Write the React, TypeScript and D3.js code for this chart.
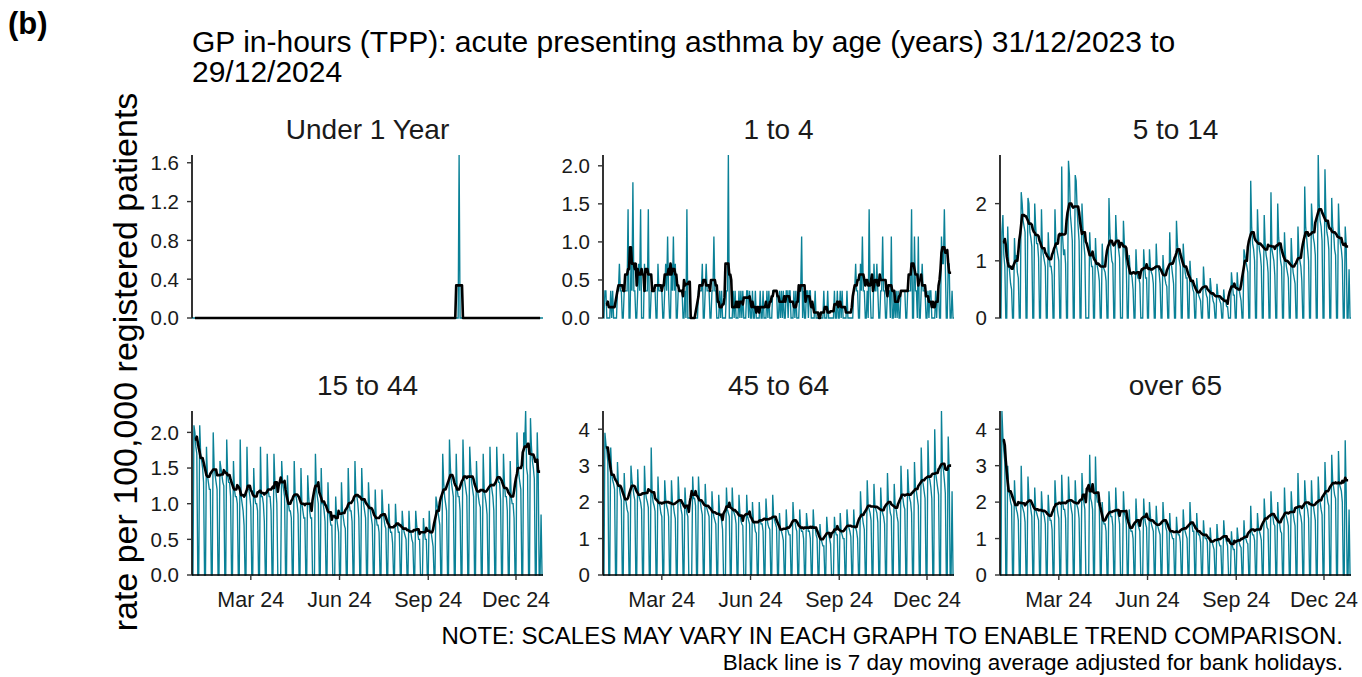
import * as React from "react";
import * as d3 from "d3";

// ---- data -------------------------------------------------------------

const START = "2023-12-31";
const END = "2024-12-29";
const bankHolidays = [
  "2024-01-01", "2024-03-29", "2024-04-01", "2024-05-06",
  "2024-05-27", "2024-08-26", "2024-12-25", "2024-12-26",
];

const panelNames = ["Under 1 Year", "1 to 4", "5 to 14", "15 to 44", "45 to 64", "over 65"];

// Under 1: one single non-zero day, every other day is 0
const under1Days = [{ date: "2024-10-03", rate: 1.68 }];

// weeks run Sunday..Saturday from 31/12/2023; each row is Mon..Fri
// 1 to 4 is small numbers, so kept as daily case counts
const oneToFourRatePerCase = 0.357;
const oneToFourCounts = [
  [0, 1, 1, 0, 0], [1, 0, 1, 0, 0], [1, 1, 2, 1, 1], [1, 1, 1, 1, 4], [2, 1, 5, 1, 1],
  [1, 2, 1, 4, 0], [2, 1, 1, 1, 4], [1, 1, 1, 1, 1], [2, 1, 1, 1, 1], [1, 2, 1, 3, 1],
  [2, 1, 3, 1, 2], [1, 1, 1, 1, 1], [1, 0, 4, 0, 0], [0, 0, 0, 0, 0], [1, 1, 1, 1, 2],
  [1, 2, 1, 1, 1], [1, 1, 3, 1, 1], [0, 1, 0, 1, 0], [0, 1, 1, 6, 0], [0, 1, 0, 1, 0],
  [1, 0, 1, 0, 1], [0, 1, 1, 0, 1], [1, 0, 0, 1, 0], [0, 1, 0, 0, 1], [0, 1, 0, 1, 0],
  [1, 1, 1, 1, 1], [1, 0, 1, 0, 1], [1, 1, 0, 1, 1], [0, 1, 0, 1, 0], [1, 1, 3, 0, 1],
  [1, 1, 0, 1, 1], [0, 0, 1, 0, 0], [0, 0, 0, 0, 1], [0, 1, 0, 0, 0], [0, 1, 0, 0, 1],
  [1, 0, 1, 0, 0], [1, 0, 0, 0, 0], [1, 1, 2, 1, 1], [2, 1, 3, 1, 1], [1, 0, 4, 1, 0],
  [2, 1, 1, 2, 1], [1, 1, 3, 1, 1], [1, 1, 1, 0, 3], [1, 0, 1, 0, 1], [1, 1, 1, 1, 1],
  [1, 1, 1, 1, 4], [3, 1, 1, 0, 3], [1, 2, 1, 1, 1], [1, 0, 1, 1, 0], [0, 1, 0, 1, 1],
  [3, 2, 2, 4, 2], [2, 2, 0, 0, 1],
];

const fiveTo14 = [
  [0, 1.5, 1.8, 1.1, 0.9], [1.6, 1.0, 0.8, 0.6, 0.5], [1.4, 1.0, 1.1, 0.8, 0.7], [2.2, 2.0, 1.7, 1.6, 1.5],
  [2.1, 2.0, 1.5, 1.4, 1.25], [2.0, 1.6, 1.3, 1.3, 1.05], [1.9, 1.2, 1.1, 1.0, 0.9], [1.5, 1.1, 0.9, 0.9, 0.75],
  [1.9, 1.3, 1.2, 1.1, 1.0], [2.65, 1.4, 1.1, 1.2, 0.95], [2.75, 2.5, 1.8, 1.6, 1.35], [2.5, 2.4, 1.9, 1.6, 1.35],
  [2.0, 1.6, 1.3, 1.1, 0], [0, 1.5, 1.1, 0.9, 0.9], [1.4, 1.0, 0.9, 0.8, 0.65], [1.3, 0.9, 0.85, 0.8, 0.65],
  [2.1, 1.5, 1.2, 1.0, 0.95], [1.8, 1.4, 1.3, 1.2, 1.05], [0, 1.7, 1.3, 1.1, 0.9], [1.1, 0.8, 0.8, 0.7, 0.5],
  [1.2, 0.8, 0.7, 0.7, 0.6], [0, 1.2, 0.9, 0.7, 0.7], [1.2, 0.9, 0.8, 0.75, 0.6], [1.3, 0.9, 0.9, 0.8, 0.6],
  [1.1, 0.8, 0.7, 0.6, 0.55], [1.5, 1.0, 0.9, 0.75, 0.6], [1.7, 1.3, 1.1, 1.0, 0.9], [1.3, 1.0, 0.8, 0.7, 0.7],
  [1.0, 0.7, 0.6, 0.5, 0.45], [0.7, 0.5, 0.4, 0.35, 0.3], [0.9, 0.6, 0.5, 0.4, 0.35], [0.7, 0.5, 0.4, 0.3, 0.25],
  [0.6, 0.4, 0.35, 0.3, 0.25], [0.5, 0.3, 0.3, 0.2, 0.2], [0, 0.8, 0.6, 0.4, 0.4], [0.8, 0.5, 0.5, 0.4, 0.3],
  [1.2, 1.1, 1.0, 0.9, 0.8], [2.4, 1.6, 1.3, 1.2, 1.0], [1.9, 1.4, 1.2, 1.1, 0.9], [1.8, 1.3, 1.1, 1.0, 0.8],
  [2.2, 1.2, 1.1, 1.0, 0.75], [2.0, 1.4, 1.2, 1.0, 0.9], [1.5, 1.1, 0.9, 0.8, 0.7], [1.4, 1.0, 0.8, 0.7, 0.6],
  [1.6, 1.1, 1.0, 0.9, 0.65], [2.3, 1.6, 1.4, 1.2, 1.0], [2.0, 1.7, 1.4, 1.3, 1.1], [2.85, 2.0, 1.7, 1.6, 1.35],
  [2.6, 1.8, 1.5, 1.4, 1.2], [2.1, 1.6, 1.5, 1.2, 1.1], [2.0, 1.5, 1.3, 1.2, 1.0], [1.6, 1.3, 0, 0, 0.85],
];

const fifteenTo44 = [
  [0, 2.1, 2.0, 1.8, 1.7], [2.1, 1.7, 1.6, 1.5, 1.3], [1.8, 1.4, 1.3, 1.2, 1.2], [2.0, 1.5, 1.4, 1.3, 1.2],
  [1.6, 1.5, 1.4, 1.3, 1.25], [1.9, 1.4, 1.3, 1.3, 1.1], [1.6, 1.2, 1.1, 1.1, 1.0], [1.9, 1.1, 1.0, 0.9, 0.7],
  [1.8, 1.2, 1.2, 1.1, 0.95], [1.5, 1.1, 1.0, 1.0, 0.9], [1.8, 1.1, 1.1, 1.0, 0.75], [1.7, 1.2, 1.1, 1.1, 0.9],
  [1.7, 1.3, 1.2, 1.0, 0], [0, 1.6, 1.3, 1.2, 1.1], [1.4, 1.0, 0.9, 0.9, 0.8], [1.6, 1.1, 1.1, 1.0, 0.85],
  [1.5, 1.0, 0.9, 0.8, 0.8], [1.4, 1.1, 0.9, 0.8, 0.8], [0, 1.7, 1.2, 1.1, 1.0], [1.5, 1.0, 1.0, 0.9, 0.75],
  [1.3, 0.9, 0.8, 0.7, 0.7], [0, 1.1, 0.8, 0.7, 0.6], [1.3, 0.9, 0.8, 0.7, 0.65], [1.5, 1.0, 0.9, 0.9, 0.75],
  [1.6, 1.1, 1.1, 1.0, 0.8], [1.5, 1.1, 1.0, 0.9, 0.8], [1.3, 1.0, 0.9, 0.8, 0.7], [1.2, 0.8, 0.7, 0.7, 0.6],
  [1.2, 0.9, 0.8, 0.7, 0.65], [1.0, 0.7, 0.6, 0.6, 0.45], [1.0, 0.7, 0.7, 0.6, 0.6], [0.9, 0.7, 0.6, 0.55, 0.5],
  [0.9, 0.6, 0.6, 0.5, 0.45], [0.9, 0.7, 0.6, 0.5, 0.5], [0, 0.8, 0.6, 0.5, 0.5], [0.9, 0.6, 0.6, 0.5, 0.4],
  [1.1, 1.0, 0.9, 0.8, 0.7], [1.7, 1.3, 1.1, 1.0, 0.9], [1.9, 1.5, 1.3, 1.2, 1.1], [1.7, 1.2, 1.1, 1.1, 0.9],
  [1.9, 1.4, 1.3, 1.2, 1.1], [1.8, 1.5, 1.3, 1.2, 1.1], [1.6, 1.2, 1.1, 1.0, 0.95], [1.7, 1.2, 1.1, 1.0, 0.85],
  [1.8, 1.3, 1.2, 1.1, 0.9], [1.8, 1.4, 1.3, 1.3, 1.05], [1.7, 1.3, 1.1, 1.1, 0.9], [1.6, 1.1, 1.0, 1.0, 0.8],
  [2.0, 1.6, 1.4, 1.3, 1.2], [2.0, 1.8, 2.3, 1.5, 1.4], [2.2, 1.8, 1.6, 1.5, 1.35], [2.0, 1.5, 0, 0, 0.85],
];

const fortyFiveTo64 = [
  [0, 3.9, 3.6, 3.4, 3.1], [3.5, 2.8, 2.6, 2.5, 2.35], [3.1, 2.5, 2.4, 2.2, 2.05], [2.8, 2.1, 2.0, 1.8, 1.7],
  [3.0, 2.6, 2.4, 2.2, 2.05], [2.9, 2.2, 2.1, 2.0, 1.8], [3.0, 2.3, 2.1, 2.0, 1.85], [3.5, 2.2, 2.0, 1.9, 1.75],
  [2.7, 2.0, 1.9, 1.7, 1.6], [2.6, 2.1, 1.9, 1.8, 1.6], [2.6, 2.0, 1.9, 1.7, 1.55], [2.7, 2.1, 2.0, 1.8, 1.65],
  [2.4, 1.9, 1.7, 1.6, 0], [0, 2.7, 2.1, 2.1, 1.9], [2.7, 2.1, 2.0, 1.8, 1.65], [2.5, 1.9, 1.8, 1.7, 1.6],
  [2.3, 1.8, 1.6, 1.5, 1.4], [2.2, 1.7, 1.6, 1.5, 1.25], [0, 2.4, 1.8, 1.7, 1.6], [2.4, 1.8, 1.7, 1.6, 1.4],
  [2.2, 1.7, 1.5, 1.4, 1.35], [0, 2.2, 1.6, 1.5, 1.4], [2.0, 1.5, 1.4, 1.2, 1.15], [2.0, 1.5, 1.4, 1.4, 1.2],
  [2.1, 1.6, 1.4, 1.3, 1.25], [2.2, 1.6, 1.5, 1.4, 1.3], [1.7, 1.3, 1.2, 1.1, 0.95], [1.8, 1.3, 1.2, 1.1, 1.1],
  [2.0, 1.5, 1.5, 1.3, 1.2], [1.8, 1.3, 1.2, 1.2, 1.0], [1.7, 1.4, 1.2, 1.2, 1.0], [1.8, 1.3, 1.3, 1.1, 1.0],
  [1.4, 1.0, 0.9, 0.8, 0.8], [1.6, 1.2, 1.1, 1.0, 0.85], [0, 1.6, 1.2, 1.1, 1.1], [1.7, 1.2, 1.1, 1.0, 1.0],
  [1.8, 1.4, 1.3, 1.2, 1.05], [1.8, 1.3, 1.3, 1.2, 1.0], [2.3, 1.7, 1.6, 1.4, 1.25], [2.6, 1.9, 1.8, 1.7, 1.5],
  [2.5, 1.9, 1.8, 1.7, 1.45], [2.4, 1.8, 1.7, 1.6, 1.4], [2.8, 2.0, 1.9, 1.7, 1.6], [2.5, 1.9, 1.8, 1.6, 1.45],
  [3.0, 2.2, 2.1, 1.9, 1.8], [2.9, 2.3, 2.1, 2.0, 1.7], [3.1, 2.4, 2.3, 2.1, 1.9], [3.5, 2.6, 2.5, 2.3, 2.1],
  [3.7, 2.7, 2.6, 2.4, 2.1], [4.0, 2.8, 2.6, 2.4, 2.2], [4.5, 3.0, 2.9, 2.6, 2.25], [3.8, 2.9, 0, 0, 2.3],
];

const over65 = [
  [0, 4.5, 3.8, 3.4, 3.1], [3.0, 2.4, 2.2, 2.0, 1.9], [2.6, 2.0, 1.8, 1.7, 1.5], [3.0, 1.9, 1.8, 1.7, 1.45],
  [2.7, 2.1, 2.0, 1.8, 1.6], [2.4, 1.8, 1.7, 1.6, 1.5], [2.3, 1.8, 1.7, 1.6, 1.4], [2.2, 1.7, 1.5, 1.5, 1.25],
  [2.6, 2.0, 1.9, 1.7, 1.55], [2.75, 2.0, 1.8, 1.8, 1.55], [2.7, 2.1, 2.0, 1.8, 1.65], [2.6, 2.0, 1.9, 1.8, 1.55],
  [2.8, 2.2, 2.0, 1.8, 0], [0, 3.3, 2.1, 2.0, 1.8], [3.25, 2.2, 2.0, 2.0, 1.85], [2.0, 1.5, 1.4, 1.4, 1.2],
  [2.3, 1.8, 1.6, 1.6, 1.35], [2.4, 1.8, 1.7, 1.6, 1.4], [0, 2.3, 1.7, 1.6, 1.4], [1.8, 1.3, 1.2, 1.2, 1.0],
  [2.1, 1.5, 1.4, 1.3, 1.2], [0, 2.1, 1.6, 1.4, 1.3], [2.0, 1.6, 1.4, 1.3, 1.2], [1.9, 1.4, 1.3, 1.2, 1.1],
  [2.0, 1.5, 1.5, 1.3, 1.2], [1.7, 1.2, 1.1, 1.0, 1.0], [1.6, 1.2, 1.1, 1.1, 0.9], [1.8, 1.3, 1.2, 1.1, 1.0],
  [2.0, 1.4, 1.4, 1.2, 1.2], [1.7, 1.2, 1.1, 1.1, 0.9], [1.5, 1.1, 1.0, 1.0, 0.9], [1.3, 0.9, 0.9, 0.8, 0.7],
  [1.4, 1.0, 0.9, 0.8, 0.8], [1.5, 1.1, 1.0, 0.9, 0.8], [0, 1.2, 0.8, 0.7, 0.7], [1.3, 1.0, 0.9, 0.8, 0.75],
  [1.5, 1.0, 1.0, 0.9, 0.85], [1.9, 1.2, 1.1, 1.1, 0.95], [1.7, 1.3, 1.2, 1.1, 0.95], [2.1, 1.6, 1.5, 1.3, 1.25],
  [2.3, 1.7, 1.6, 1.4, 1.35], [2.0, 1.5, 1.4, 1.2, 1.15], [2.4, 1.7, 1.6, 1.5, 1.35], [2.3, 1.8, 1.7, 1.5, 1.35],
  [2.8, 1.9, 1.7, 1.6, 1.4], [2.6, 2.1, 1.9, 1.8, 1.55], [2.6, 1.9, 1.9, 1.7, 1.5], [2.7, 2.1, 2.0, 1.8, 1.65],
  [3.1, 2.3, 2.2, 2.0, 1.9], [3.3, 2.6, 2.4, 2.2, 2.1], [3.4, 2.5, 2.4, 2.3, 2.0], [3.7, 2.3, 0, 0, 1.8],
];

const yTicks = [
  [0, 0.4, 0.8, 1.2, 1.6],
  [0, 0.5, 1, 1.5, 2],
  [0, 1, 2],
  [0, 0.5, 1, 1.5, 2],
  [0, 1, 2, 3, 4],
  [0, 1, 2, 3, 4],
];
const yTickFormats = [".1f", ".1f", "d", ".1f", "d", "d"];
const xTickDates = ["2024-03-01", "2024-06-01", "2024-09-01", "2024-12-01"];

// ---- helpers ----------------------------------------------------------

const parse = d3.timeParse("%Y-%m-%d");
const days = d3.timeDay.range(parse(START)!, d3.timeDay.offset(parse(END)!, 1));
const fmtDay = d3.timeFormat("%Y-%m-%d");
const holidaySet = new Set(bankHolidays);
const isWorking = days.map((d) => d.getDay() !== 0 && d.getDay() !== 6 && !holidaySet.has(fmtDay(d)));

function dailyFromWeeks(weeks: number[][], scale = 1) {
  return days.map((d, i) => {
    const dow = d.getDay();
    if (dow === 0 || dow === 6) return 0;
    const w = weeks[Math.floor(i / 7)];
    return w ? w[dow - 1] * scale : 0;
  });
}

// centred 7 day mean of the working days only (weekends / bank holidays left out)
function movingAverage(vals: number[]) {
  return vals.map((_, i) => {
    if (i < 3 || i > vals.length - 4) return null;
    const idx = d3.range(i - 3, i + 4).filter((j) => isWorking[j]);
    return idx.length ? d3.mean(idx, (j) => vals[j])! : 0;
  });
}

const under1Map = new Map(under1Days.map((d) => [d.date, d.rate]));
const series = [
  days.map((d) => under1Map.get(fmtDay(d)) ?? 0),
  dailyFromWeeks(oneToFourCounts, oneToFourRatePerCase),
  dailyFromWeeks(fiveTo14),
  dailyFromWeeks(fifteenTo44),
  dailyFromWeeks(fortyFiveTo64),
  dailyFromWeeks(over65),
];

// ---- layout -----------------------------------------------------------

const W = 1362;
const H = 677;
const colLeft = [192, 603, 1000];
const panelW = 351;
const rowTop = [155, 411];
const rowBottom = [318, 575];
const FONT = "'Liberation Sans', Arial, Helvetica, sans-serif";
const TEAL = "#0a8197";

function Panel({ index }: { index: number }) {
  const col = index % 3;
  const row = Math.floor(index / 3);
  const left = colLeft[col];
  const top = rowTop[row];
  const bottom = rowBottom[row];
  const vals = series[index];
  const ma = movingAverage(vals);

  const x = d3.scaleTime().domain([days[0], days[days.length - 1]]).range([left, left + panelW]);
  const y = d3.scaleLinear().domain([0, d3.max(vals)!]).range([bottom, top]);

  const teal = d3.line<number>().x((_, i) => x(days[i])).y((v) => y(v))(vals)!;
  const black = d3
    .line<number | null>()
    .defined((v) => v != null)
    .x((_, i) => x(days[i]))
    .y((v) => y(v as number))(ma)!;

  const fmt = d3.format(yTickFormats[index]);
  const xFmt = d3.timeFormat("%b %y");

  return (
    <g>
      <text x={left + panelW / 2} y={top - 16} textAnchor="middle" fontSize={28} fill="#1a1a1a">
        {panelNames[index]}
      </text>
      <path d={teal} fill="none" stroke={TEAL} strokeWidth={1.35} />
      <path d={black} fill="none" stroke="#000" strokeWidth={2.6} strokeLinejoin="round" />
      {/* y axis */}
      <line x1={left} x2={left} y1={top} y2={bottom} stroke="#000" strokeWidth={1.6} />
      {yTicks[index].map((t) => (
        <g key={t}>
          <line x1={left - 5} x2={left} y1={y(t)} y2={y(t)} stroke="#333" strokeWidth={1.4} />
          <text x={left - 13} y={y(t)} dy="0.36em" textAnchor="end" fontSize={20.5} fill="#1a1a1a">
            {fmt(t)}
          </text>
        </g>
      ))}
      {row === 1 && (
        <g>
          <line x1={left} x2={left + panelW} y1={bottom} y2={bottom} stroke="#000" strokeWidth={1.6} />
          {xTickDates.map((s) => {
            const d = parse(s)!;
            return (
              <g key={s}>
                <line x1={x(d)} x2={x(d)} y1={bottom} y2={bottom + 5} stroke="#333" strokeWidth={1.4} />
                <text x={x(d)} y={bottom + 32} textAnchor="middle" fontSize={21.5} fill="#1a1a1a">
                  {xFmt(d)}
                </text>
              </g>
            );
          })}
        </g>
      )}
    </g>
  );
}

export default function App() {
  return (
    <svg
      width={W}
      height={H}
      style={{ position: "absolute", left: 0, top: 0, background: "#fff", fontFamily: FONT }}
    >
      <rect width={W} height={H} fill="#fff" />
      <text x={8} y={34} fontSize={31} fontWeight="bold">(b)</text>
      <text x={192} y={52} fontSize={30}>
        GP in-hours (TPP): acute presenting asthma by age (years) 31/12/2023 to
      </text>
      <text x={192} y={82} fontSize={30}>29/12/2024</text>
      <text
        transform={`translate(137, ${362}) rotate(-90)`}
        textAnchor="middle"
        fontSize={34}
      >
        rate per 100,000 registered patients
      </text>
      {panelNames.map((_, i) => (
        <Panel key={i} index={i} />
      ))}
      <text x={1343} y={644} textAnchor="end" fontSize={24}>
        NOTE: SCALES MAY VARY IN EACH GRAPH TO ENABLE TREND COMPARISON.
      </text>
      <text x={1343} y={670} textAnchor="end" fontSize={22.5}>
        Black line is 7 day moving average adjusted for bank holidays.
      </text>
    </svg>
  );
}
